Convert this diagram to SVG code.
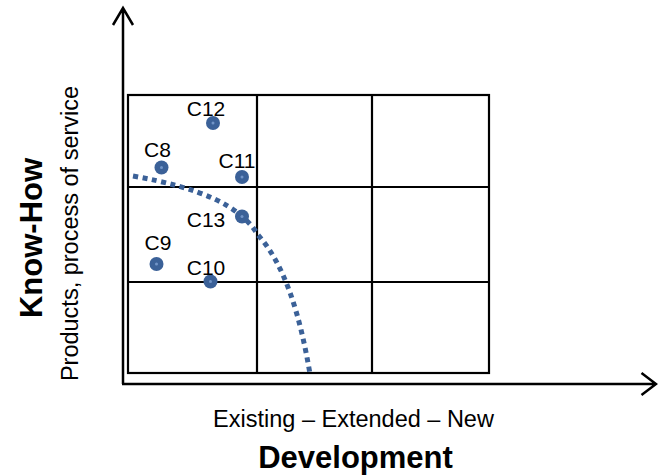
<svg xmlns="http://www.w3.org/2000/svg" width="658" height="475" viewBox="0 0 658 475">
<style>
.ax{stroke:#000;stroke-width:2.5;fill:none}
.grid{stroke:#000;stroke-width:2.2;fill:none}
.lbl{font-family:"Liberation Sans",Arial,sans-serif;font-size:21px;fill:#000;text-anchor:middle}
.reg{font-family:"Liberation Sans",Arial,sans-serif;font-size:23.5px;fill:#000;text-anchor:middle}
.bold{font-family:"Liberation Sans",Arial,sans-serif;font-size:31px;font-weight:bold;fill:#000;text-anchor:middle}
.dot{fill:#3b6198}
.hl{fill:#7295c8}
</style>
<rect width="658" height="475" fill="#fff"/>
<g id="grid">
<rect class="grid" x="128" y="95" width="361" height="278"/>
<line class="grid" x1="257" y1="95" x2="257" y2="373"/>
<line class="grid" x1="372" y1="95" x2="372" y2="373"/>
<line class="grid" x1="128" y1="187" x2="489" y2="187"/>
<line class="grid" x1="128" y1="282" x2="489" y2="282"/>
</g>
<g id="connectors">
<path class="ax" d="M123,384 V8 M113,25 L123,8 L133,25"/>
<path class="ax" d="M122,384 H656 M641.5,373 L656,384 L641.5,395"/>
<path d="M133,176 C200,188 240,205 258,235 C285,265 300,315 310,374" fill="none" stroke="#3b6198" stroke-width="5" stroke-dasharray="5 4.5"/>
</g>
<g id="C12"><circle class="dot" cx="213" cy="123" r="7"/><circle class="hl" cx="213" cy="123" r="1.5"/><text class="lbl" x="206" y="116">C12</text></g>
<g id="C8"><circle class="dot" cx="161.5" cy="167.5" r="7"/><circle class="hl" cx="161.5" cy="167.5" r="1.5"/><text class="lbl" x="157.5" y="157">C8</text></g>
<g id="C11"><circle class="dot" cx="242" cy="177" r="7"/><circle class="hl" cx="242" cy="177" r="1.5"/><text class="lbl" x="237" y="168">C11</text></g>
<g id="C13"><circle class="dot" cx="242" cy="216.5" r="7"/><circle class="hl" cx="242" cy="216.5" r="1.5"/><text class="lbl" x="206" y="227">C13</text></g>
<g id="C9"><circle class="dot" cx="156.5" cy="264" r="7"/><circle class="hl" cx="156.5" cy="264" r="1.5"/><text class="lbl" x="158" y="250">C9</text></g>
<g id="C10"><circle class="dot" cx="210.5" cy="281.5" r="7"/><circle class="hl" cx="210.5" cy="281.5" r="1.5"/><text class="lbl" x="206" y="275">C10</text></g>
<g id="labels">
<text class="reg" x="353.5" y="427">Existing – Extended – New</text>
<text class="bold" x="355.5" y="468">Development</text>
<text class="bold" transform="translate(42,238) rotate(-90)">Know-How</text>
<text class="reg" transform="translate(78,233.5) rotate(-90)">Products, process of service</text>
</g>
</svg>
